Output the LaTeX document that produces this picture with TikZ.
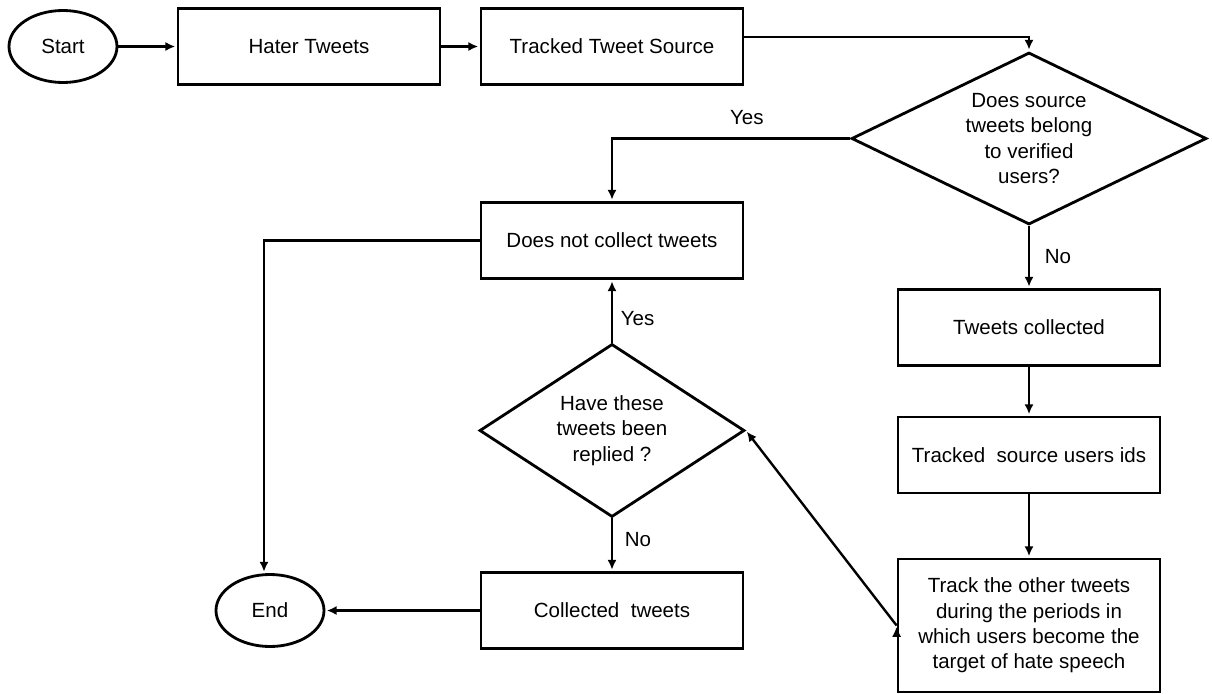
\documentclass[tikz,border=0pt]{standalone}
\usepackage{fontspec}
\setmainfont{Liberation Sans}
\usepackage{tikz}
\usetikzlibrary{arrows.meta, positioning, shapes.geometric}

\begin{document}
\begin{tikzpicture}[shorten >=1pt,on grid,auto,
    font=\fontsize{14.6}{18}\selectfont,
    >={Latex[length=7pt,width=6.5pt]}]
    \tikzstyle{terminal}=[shape=ellipse,draw,line width=2pt,minimum width=2.7cm,minimum height=1.8cm,inner sep=0pt]
    \tikzstyle{process}=[shape=rectangle,draw,line width=2pt,minimum width=6.55cm,minimum height=1.9cm,align=center]
    \tikzstyle{decision}=[shape=diamond,draw,line width=2pt,inner sep=0pt,align=center]

    \useasboundingbox (0,0) rectangle (30.3,-17.35);

    \node[terminal] (S) at (1.575,-1.1625) {Start};
    \node[process, right=6.15cm of S] (H) {Hater Tweets};
    \node[process, right=7.575cm of H] (T) {Tracked Tweet Source};
    \node[decision, aspect=2, minimum width=8.875cm, minimum height=4.3cm,
          below right=2.3cm and 10.425cm of T] (D1) {Does source\\tweets belong\\to verified\\users?};

    \node[process, below=4.725cm of D1] (C1) {Tweets collected};
    \node[process, below=3.1875cm of C1] (I) {Tracked\ \ source users ids};
    \node[process, minimum height=3.325cm, below=4.2625cm of I] (TR) {Track the other tweets\\during the periods in\\which users become the\\target of hate speech};

    \node[process, below=4.85cm of T] (N) {Does not collect tweets};
    \node[decision, aspect=1.5, minimum width=6.625cm, minimum height=4.325cm,
          below=4.75cm of N] (D2) {Have these\\tweets been\\replied ?};
    \node[process, below=4.5cm of D2] (C2) {Collected\ \ tweets};
    \node[terminal, left=8.55cm of C2] (E) {End};

    \path[->, draw, line width=1.7pt]
    (S) edge node {} (H)
    (H) edge node {} (T)

    (D1) edge node[pos=0.5, right=0.25cm] {No} (C1)
    (C1) edge node {} (I)
    (I) edge node {} (TR)
    (TR.west) edge node {} (D2.east)

    (D2) edge node[pos=0.39, right=0.075cm] {Yes} (N)
    (D2) edge node[pos=0.4, right=0.175cm] {No} (C2)
    (C2) edge node {} (E)
    ;

    \draw[->, line width=1.7pt] ([yshift=0.24cm]T.east) -| (D1.north);
    \draw[->, line width=1.7pt] (D1.west) -| node[pos=0.217, above=0.2cm] {Yes} (N.north);
    \draw[->, line width=1.7pt] (N.west) -| ([xshift=-0.15cm]E.north);

\end{tikzpicture}
\end{document}
